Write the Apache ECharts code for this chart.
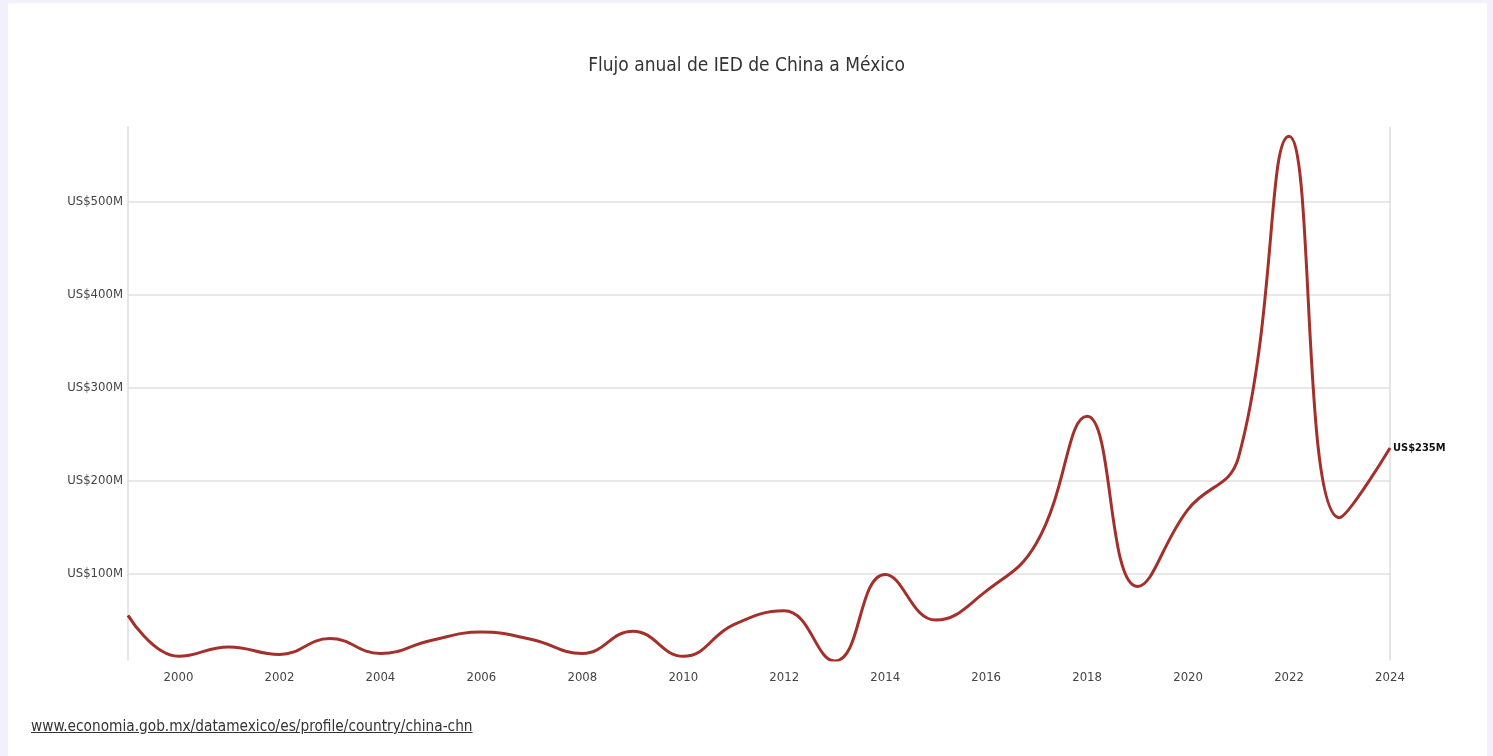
<!DOCTYPE html>
<html>
<head>
<meta charset="utf-8">
<script src="https://cdn.jsdelivr.net/npm/echarts@6/dist/echarts.min.js"></script>
<style>
html,body{margin:0;padding:0;width:1493px;height:756px;background:#f3f0fd;overflow:hidden;}
#card{position:absolute;left:8px;top:3px;width:1479px;height:760px;background:#fff;}
#chart{position:absolute;left:0;top:0;width:1493px;height:756px;}
#src{position:absolute;left:31px;top:717px;font-family:"DejaVu Sans Condensed",sans-serif;font-size:15.25px;color:#333;text-decoration:underline;}
</style>
</head>
<body>
<div id="card"></div>
<div id="chart"></div>
<div id="src">www.economia.gob.mx/datamexico/es/profile/country/china-chn</div>
<script>
const years = ['1999','2000','2001','2002','2003','2004','2005','2006','2007','2008','2009','2010','2011','2012','2013','2014','2015','2016','2017','2018','2019','2020','2021','2022','2023','2024'];
const fdiMillions = [55,11,21,13,30,14,28,37,29,14,38,11,45,60,6,99,50,81,133,269,86,169,225,570,160,235];
const yTicks = [100,200,300,400,500];
const titleText = 'Flujo anual de IED de China a México';

const FONT = '"DejaVu Sans Condensed",sans-serif';
const chart = echarts.init(document.getElementById('chart'), null, {renderer:'canvas'});
chart.setOption({
  backgroundColor:'transparent',
  animation:false,
  title:{text:titleText,left:'center',top:52,textStyle:{fontFamily:FONT,fontSize:19,fontWeight:'normal',color:'#333'}},
  grid:{left:128,right:103,top:127,bottom:96},
  xAxis:{type:'category',data:years,boundaryGap:false,
    axisLine:{show:false},axisTick:{show:false},splitLine:{show:false},
    axisLabel:{interval:(i,v)=>Number(v)%2===0,margin:11,fontFamily:FONT,fontSize:13,color:'#444'}},
  yAxis:[{type:'value',min:7,max:580,
    axisLine:{show:true,lineStyle:{color:'#ddd',width:1.5}},
    axisTick:{show:false,customValues:yTicks},
    axisLabel:{customValues:yTicks,margin:5,fontFamily:FONT,fontSize:13,color:'#444',formatter:v=>'US$'+v+'M'},
    splitLine:{show:true,lineStyle:{color:'#e0e0e0',width:1.5}}},
   {type:'value',min:7,max:580,position:'right',
    axisLine:{show:true,lineStyle:{color:'#ddd',width:1.5}},
    axisTick:{show:false},axisLabel:{show:false},splitLine:{show:false}}],
  series:[{type:'line',data:fdiMillions,smooth:0.45,symbol:'none',
    lineStyle:{color:'#a3302a',width:3},
    endLabel:{show:true,distance:3,formatter:p=>'US$'+p.value+'M',fontFamily:FONT,fontSize:11,fontWeight:'bold',color:'#111'}}]
});
</script>
</body>
</html>
